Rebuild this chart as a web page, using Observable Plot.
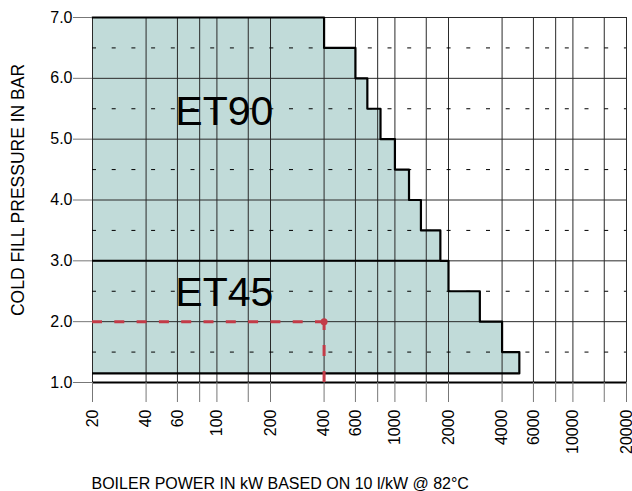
<!DOCTYPE html>
<html><head><meta charset="utf-8">
<script src="https://cdn.jsdelivr.net/npm/d3@7"></script>
<script src="https://cdn.jsdelivr.net/npm/@observablehq/plot@0.6"></script>
<style>
body{margin:0;background:#fff}
#chart svg{display:block;font-family:"Liberation Sans",Arial,Helvetica,sans-serif}
</style>
</head><body><div id="chart"></div>
<script>
// Step boundary of the usable region (boiler power kW -> max cold fill pressure bar)
const stepPower    = [20, 400, 600, 700, 830, 1000, 1200, 1400, 1800, 2000, 3000, 4000, 5000];
const stepPressure = [7.0, 6.5, 6.0, 5.5, 5.0, 4.5, 4.0, 3.5, 3.0, 2.5, 2.0, 1.5, 1.5];
const minPressure = 1.15;          // lower edge of shaded region
const et45Limit = 3.0;             // ET45 / ET90 boundary
const et45LimitPower = 1800;
const xGrid = [20, 40, 60, 80, 100, 150, 200, 400, 600, 800, 1000, 1500, 2000, 4000, 6000, 8000, 10000, 15000, 20000];
const xLabels = [20, 40, 60, 100, 200, 400, 600, 1000, 2000, 4000, 6000, 10000, 20000];
const yTicks = [1, 2, 3, 4, 5, 6, 7];
const yHalf = [1.5, 2.5, 3.5, 4.5, 5.5, 6.5];
const modelNames = ["ET90", "ET45"];
const modelPower = [110, 110];
const modelPressure = [5.45, 2.48];
const examplePower = [400];
const examplePressure = [2.0];
const xTitle = "BOILER POWER IN kW BASED ON 10 l/kW @ 82°C";
const yTitle = "COLD FILL PRESSURE IN BAR";

const steps = stepPower.map((p, i) => ({power: p, pressure: stepPressure[i]}));
const outline = [...steps, {power: stepPower[stepPower.length - 1], pressure: minPressure}];
const models = modelNames.map((n, i) => ({name: n, power: modelPower[i], pressure: modelPressure[i]}));
const example = examplePower.map((p, i) => ({power: p, pressure: examplePressure[i]}));

const fillColor = "#c1dbd9";
const red = "#c33b47";
const gridColor = "#2a2a2a";

const chart = Plot.plot({
  width: 632,
  height: 491,
  marginLeft: 92,
  marginRight: 6,
  marginTop: 17,
  marginBottom: 109,
  style: {fontFamily: '"Liberation Sans", Arial, Helvetica, sans-serif', background: "#fff"},
  x: {type: "log", domain: [20, 20000]},
  y: {domain: [1, 7]},
  marks: [
    Plot.areaY(steps, {x: "power", y1: minPressure, y2: "pressure", curve: "step-after", fill: fillColor}),
    Plot.ruleX(xGrid, {y1: 1, y2: 7, stroke: gridColor, strokeWidth: 1}),
    Plot.ruleY(yTicks, {stroke: gridColor, strokeWidth: 1}),
    Plot.ruleY(yHalf, {stroke: "#000", strokeWidth: 1, strokeDasharray: "4,15.7"}),
    Plot.ruleY([1], {stroke: "#000", strokeWidth: 2}),
    Plot.ruleY([et45Limit], {x1: stepPower[0], x2: et45LimitPower, stroke: "#000", strokeWidth: 2}),
    Plot.line(outline, {x: "power", y: "pressure", curve: "step-after", stroke: "#000", strokeWidth: 2.2}),
    Plot.ruleY([minPressure], {x1: stepPower[0], x2: stepPower[stepPower.length - 1], stroke: "#000", strokeWidth: 2.2}),
    Plot.ruleY(example, {y: "pressure", x1: stepPower[0], x2: "power", stroke: red, strokeWidth: 3, strokeDasharray: "10,12.3"}),
    Plot.ruleX(example, {x: "power", y1: 1, y2: "pressure", stroke: red, strokeWidth: 3, strokeDasharray: "11,15"}),
    Plot.dot(example, {x: "power", y: "pressure", r: 3.5, fill: red}),
    Plot.text(models, {x: "power", y: "pressure", text: "name", fontSize: 41, fill: "#000", textAnchor: "middle", lineAnchor: "middle"}),
    Plot.axisX(xGrid, {tickSize: 20, stroke: "#777", text: null, label: null}),
    Plot.text(xLabels, {
      x: d => d, text: d => String(d), frameAnchor: "bottom", rotate: -90,
      textAnchor: "end", lineAnchor: "middle", dy: 27, fontSize: 16, fill: "#000"
    }),
    Plot.axisY(yTicks, {
      tickSize: 19, tickPadding: 1, stroke: "#777", fill: "#000", fontSize: 16,
      tickFormat: d => d.toFixed(1), label: null
    }),
    Plot.text([yTitle], {frameAnchor: "left", rotate: -90, dx: -74, dy: -10, textAnchor: "middle", lineAnchor: "middle", fontSize: 17.5, fill: "#000"}),
    Plot.text([xTitle], {frameAnchor: "bottom-left", dx: -1, dy: 106, textAnchor: "start", lineAnchor: "bottom", fontSize: 16, fill: "#000"})
  ]
});
document.getElementById("chart").appendChild(chart);
</script>
</body></html>
